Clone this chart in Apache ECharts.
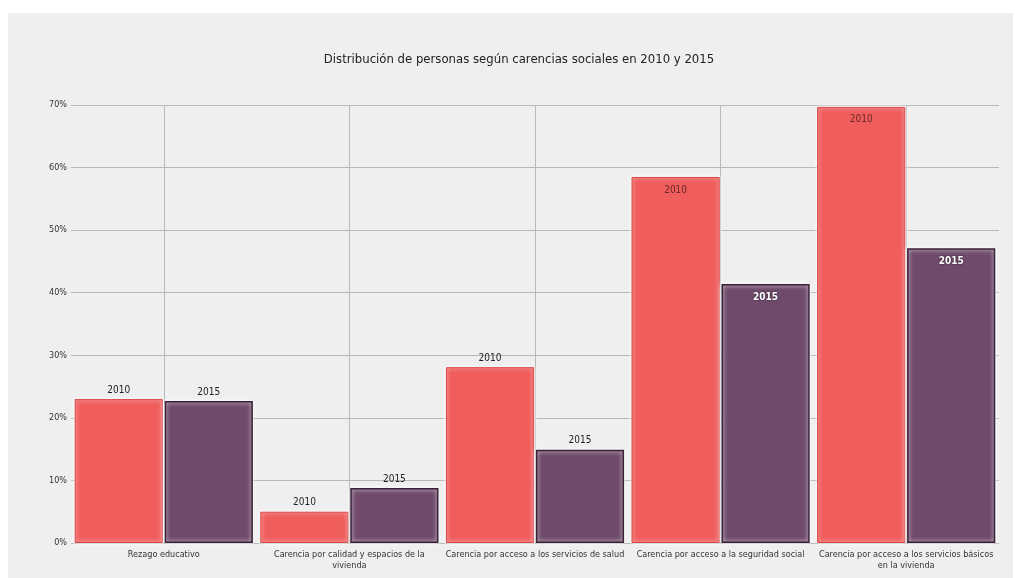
<!DOCTYPE html>
<html>
<head>
<meta charset="utf-8">
<script src="https://cdn.jsdelivr.net/npm/echarts@6/dist/echarts.min.js"></script>
<style>
html,body{margin:0;padding:0;background:#ffffff;}
#panel{position:absolute;left:8px;top:13px;width:1005px;height:565px;background:#efefef;}
#chart{position:absolute;left:0;top:0;width:1015px;height:578px;}
</style>
</head>
<body>
<div id="panel"></div>
<div id="chart"></div>
<script>
var categories = [
  "Rezago educativo",
  "Carencia por calidad y espacios de la\nvivienda",
  "Carencia por acceso a los servicios de salud",
  "Carencia por acceso a la seguridad social",
  "Carencia por acceso a los servicios básicos\nen la vivienda"
];
var values2010 = [23.0, 5.0, 28.1, 58.5, 69.7];
var values2015 = [22.7, 8.8, 14.9, 41.4, 47.1];
var labelInside2010 = [false, false, false, true, true];
var labelInside2015 = [false, false, false, true, true];
var yTicks = [0, 10, 20, 30, 40, 50, 60, 70];

var FONT = "'Liberation Sans Narrow', 'DejaVu Sans Condensed', sans-serif";

function buildData(vals, insideFlags, isWhite) {
  return vals.map(function (v, i) {
    var inside = insideFlags[i];
    var lbl = inside
      ? (isWhite
          ? { position: 'insideTop', distance: 8, color: '#ffffff', fontWeight: 'bold', textShadowColor: 'rgba(0,0,0,0.7)', textShadowBlur: 2 }
          : { position: 'insideTop', distance: 8, color: '#6a2a2a' })
      : { position: 'top', distance: 4, color: '#222222' };
    return { value: v, label: lbl };
  });
}

var chart = echarts.init(document.getElementById('chart'));
chart.setOption({
  backgroundColor: 'transparent',
  textStyle: { fontFamily: FONT },
  title: {
    text: 'Distribución de personas según carencias sociales en 2010 y 2015',
    left: 514,
    textAlign: 'center',
    top: 48,
    textStyle: { fontFamily: FONT, fontSize: 13, fontWeight: 'normal', color: '#222222' }
  },
  grid: { left: 71, right: 16, top: 105, bottom: 35, containLabel: false },
  xAxis: {
    type: 'category',
    data: categories,
    axisLine: { show: false },
    axisTick: { show: false },
    splitLine: { show: true, alignWithLabel: true, lineStyle: { color: '#b8b8b8', width: 1 } },
    axisLabel: { fontFamily: FONT, fontSize: 9, color: '#333333', margin: 6, interval: 0, lineHeight: 11 }
  },
  yAxis: {
    type: 'value',
    min: 0,
    max: 70,
    interval: 10,
    axisLine: { show: false },
    axisTick: { show: false },
    splitLine: { lineStyle: { color: '#b8b8b8', width: 1 } },
    axisLabel: {
      fontFamily: FONT, fontSize: 9, color: '#333333', margin: 4,
      formatter: function (v) { return yTicks.indexOf(v) >= 0 ? v + '%' : ''; }
    }
  },
  series: [
    {
      name: '2010',
      type: 'bar',
      barGap: '2%',
      barCategoryGap: '4%',
      data: buildData(values2010, labelInside2010, false),
      itemStyle: { color: '#ef5d5c', borderColor: '#d94848', borderWidth: 1, shadowColor: 'rgba(255,255,255,1)', shadowBlur: 4 },
      label: { show: true, formatter: '{a}', fontFamily: FONT, fontSize: 10 }
    },
    {
      name: '2015',
      type: 'bar',
      barGap: '2%',
      barCategoryGap: '4%',
      data: buildData(values2015, labelInside2015, true),
      itemStyle: { color: '#6f4a6b', borderColor: '#3a2238', borderWidth: 1.5, shadowColor: 'rgba(255,255,255,1)', shadowBlur: 4 },
      label: { show: true, formatter: '{a}', fontFamily: FONT, fontSize: 10 }
    }
  ]
});
</script>
</body>
</html>
